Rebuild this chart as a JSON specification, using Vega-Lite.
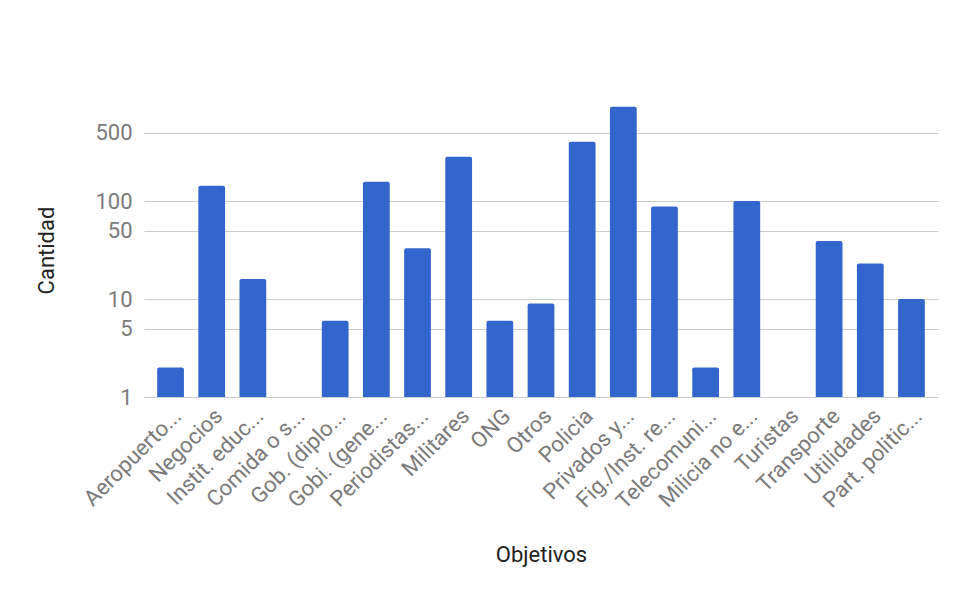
{
  "$schema": "https://vega.github.io/schema/vega-lite/v6.json",
  "autosize": {"type": "none"},
  "width": 794,
  "height": 294,
  "padding": {"left": 144, "top": 103, "right": 19, "bottom": 203},
  "background": "white",
  "config": {
    "view": {"stroke": null},
    "font": "Roboto"
  },
  "data": {
    "values": [
      {"objetivo": "Aeropuerto...", "cantidad": 2},
      {"objetivo": "Negocios", "cantidad": 143},
      {"objetivo": "Instit. educ...", "cantidad": 16},
      {"objetivo": "Comida o s...", "cantidad": 1},
      {"objetivo": "Gob. (diplo...", "cantidad": 6},
      {"objetivo": "Gobi. (gene...", "cantidad": 157},
      {"objetivo": "Periodistas...", "cantidad": 33},
      {"objetivo": "Militares", "cantidad": 283},
      {"objetivo": "ONG", "cantidad": 6},
      {"objetivo": "Otros", "cantidad": 9},
      {"objetivo": "Policia", "cantidad": 403},
      {"objetivo": "Privados y...", "cantidad": 917},
      {"objetivo": "Fig./Inst. re...", "cantidad": 88},
      {"objetivo": "Telecomuni...", "cantidad": 2},
      {"objetivo": "Milicia no e...", "cantidad": 100},
      {"objetivo": "Turistas", "cantidad": 1},
      {"objetivo": "Transporte", "cantidad": 39},
      {"objetivo": "Utilidades", "cantidad": 23},
      {"objetivo": "Part. politic...", "cantidad": 10}
    ]
  },
  "mark": {"type": "bar", "color": "#3366CC", "cornerRadiusTopLeft": 2, "cornerRadiusTopRight": 2},
  "encoding": {
    "x": {
      "field": "objetivo",
      "type": "nominal",
      "sort": null,
      "scale": {"paddingInner": 0.35, "paddingOuter": 0.32},
      "axis": {
        "title": "Objetivos",
        "titleFontSize": 22,
        "titleFontWeight": "normal",
        "titleColor": "#222222",
        "titlePadding": 32,
        "labelAngle": -45,
        "labelAlign": "right",
        "labelBaseline": "top",
        "labelFontSize": 22,
        "labelColor": "#7a7a7a",
        "labelPadding": 8,
        "labelLimit": 300,
        "ticks": false,
        "domain": false,
        "grid": false
      }
    },
    "y": {
      "field": "cantidad",
      "type": "quantitative",
      "stack": null,
      "scale": {"type": "log", "domain": [1, 1000], "nice": false, "zero": false},
      "axis": {
        "title": "Cantidad",
        "titleFontSize": 22,
        "titleFontWeight": "normal",
        "titleColor": "#222222",
        "titlePadding": 36,
        "values": [1, 5, 10, 50, 100, 500],
        "format": "d",
        "labelFontSize": 22,
        "labelColor": "#7a7a7a",
        "labelPadding": 12,
        "ticks": false,
        "domain": false,
        "grid": true,
        "gridColor": "#cccccc",
        "gridWidth": 1
      }
    },
    "y2": {"datum": 1}
  }
}
